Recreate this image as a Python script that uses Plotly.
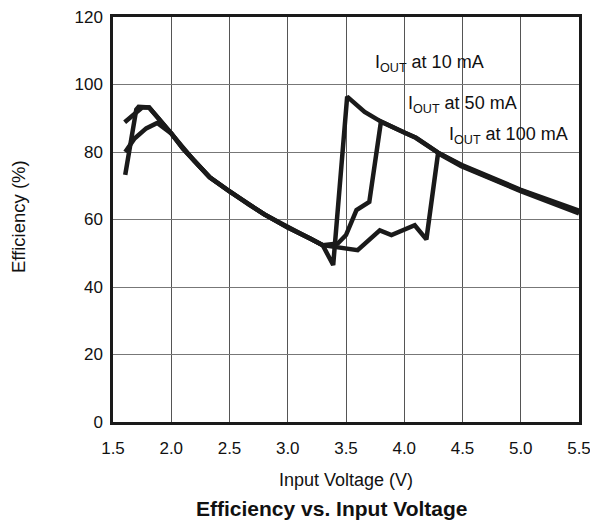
import plotly.graph_objects as go

# I_OUT = 10 mA
v10 = [1.605, 1.70, 1.72, 1.81, 1.90, 2.00, 2.10, 2.20, 2.33, 2.50, 2.67, 2.80, 3.00, 3.10, 3.20, 3.30, 3.39,
       3.51, 3.66, 3.80, 4.00, 4.10, 4.29, 4.49, 5.00, 5.50]
e10 = [73.2, 92.6, 93.4, 93.2, 89.6, 85.5, 81.0, 77.3, 72.5, 68.3, 64.3, 61.5, 57.6, 56.0, 54.2, 52.4, 46.5,
       96.4, 91.9, 89.0, 85.8, 84.2, 79.8, 76.2, 68.8, 62.6]

# I_OUT = 50 mA
v50 = [1.60, 1.70, 1.75, 1.81, 1.90, 2.00, 2.10, 2.20, 2.33, 2.50, 2.67, 2.80, 3.00, 3.10, 3.20, 3.30, 3.43,
       3.50, 3.59, 3.70, 3.80, 4.00, 4.10, 4.29, 4.49, 5.00, 5.50]
e50 = [88.8, 91.6, 93.2, 93.2, 89.6, 85.5, 81.0, 77.3, 72.5, 68.3, 64.3, 61.5, 57.6, 56.0, 54.2, 52.4, 52.9,
       55.4, 62.8, 65.2, 89.0, 85.8, 84.2, 79.8, 76.0, 68.6, 62.2]

# I_OUT = 100 mA
v100 = [1.605, 1.685, 1.785, 1.88, 2.00, 2.10, 2.20, 2.33, 2.50, 2.67, 2.80, 3.00, 3.10, 3.20, 3.30, 3.39,
        3.60, 3.79, 3.89, 4.09, 4.19, 4.29, 4.49, 5.00, 5.50]
e100 = [80.0, 84.0, 87.0, 88.6, 85.5, 81.0, 77.3, 72.5, 68.3, 64.3, 61.5, 57.6, 56.0, 54.2, 52.4, 51.9,
        50.9, 56.8, 55.4, 58.3, 54.1, 79.6, 75.8, 68.4, 61.8]

x_ticks = [1.5, 2.0, 2.5, 3.0, 3.5, 4.0, 4.5, 5.0, 5.5]
y_ticks = [0, 20, 40, 60, 80, 100, 120]

labels = ["I<sub>OUT</sub> at 10 mA", "I<sub>OUT</sub> at 50 mA", "I<sub>OUT</sub> at 100 mA"]

FONT = "Liberation Sans, Arial, sans-serif"
LINE = dict(color="#1a1a1a", width=4.5)

fig = go.Figure()
for v, e, name in [(v10, e10, labels[0]), (v50, e50, labels[1]), (v100, e100, labels[2])]:
    fig.add_trace(go.Scatter(x=v, y=e, mode="lines", line=LINE, name=name, showlegend=False))

fig.update_layout(
    width=590, height=520,
    margin=dict(l=113, r=11, t=17, b=98),
    paper_bgcolor="white", plot_bgcolor="white",
    font=dict(family=FONT, size=16, color="#111"),
)
fig.update_xaxes(
    range=[1.5, 5.5], tickvals=x_ticks, ticktext=[f"{t:.1f}" for t in x_ticks],
    showgrid=True, gridcolor="#555", gridwidth=1.2,
    showline=True, linecolor="#1a1a1a", linewidth=2.5, mirror=True,
    ticks="", zeroline=False, ticklabelstandoff=9, automargin=False,
    ticklabeloverflow="allow",
    tickfont=dict(size=17),
)
fig.update_yaxes(
    range=[0, 120], tickvals=y_ticks,
    showgrid=True, gridcolor="#777", gridwidth=1.2,
    showline=True, linecolor="#1a1a1a", linewidth=2.5, mirror=True,
    ticks="", zeroline=False, ticklabelstandoff=4, automargin=False,
    ticklabeloverflow="allow",
    tickfont=dict(size=17),
)

ann = [
    dict(text=labels[0], x=3.732, y=106.3, xanchor="left", yanchor="middle", font=dict(size=18)),
    dict(text=labels[1], x=4.019, y=94.0, xanchor="left", yanchor="middle", font=dict(size=18)),
    dict(text=labels[2], x=4.363, y=85.0, xanchor="left", yanchor="middle", font=dict(size=18)),
]
for a in ann:
    a.update(xref="x", yref="y", showarrow=False, bgcolor="rgba(0,0,0,0)")
    fig.add_annotation(**a)

fig.add_annotation(text="Input Voltage (V)", xref="paper", yref="paper", x=0.5, y=-0.142,
                   xanchor="center", yanchor="middle", showarrow=False, font=dict(size=18))
fig.add_annotation(text="<b>Efficiency vs. Input Voltage</b>", xref="paper", yref="paper", x=0.47, y=-0.213,
                   xanchor="center", yanchor="middle", showarrow=False, font=dict(size=21))
fig.add_annotation(text="Efficiency (%)", xref="paper", yref="paper", x=-0.203, y=0.507,
                   xanchor="center", yanchor="middle", textangle=-90, showarrow=False, font=dict(size=18.5))

fig.write_html("out.html", config={"displayModeBar": False},
               post_script="document.body.style.margin='0';document.body.style.overflow='hidden';")
